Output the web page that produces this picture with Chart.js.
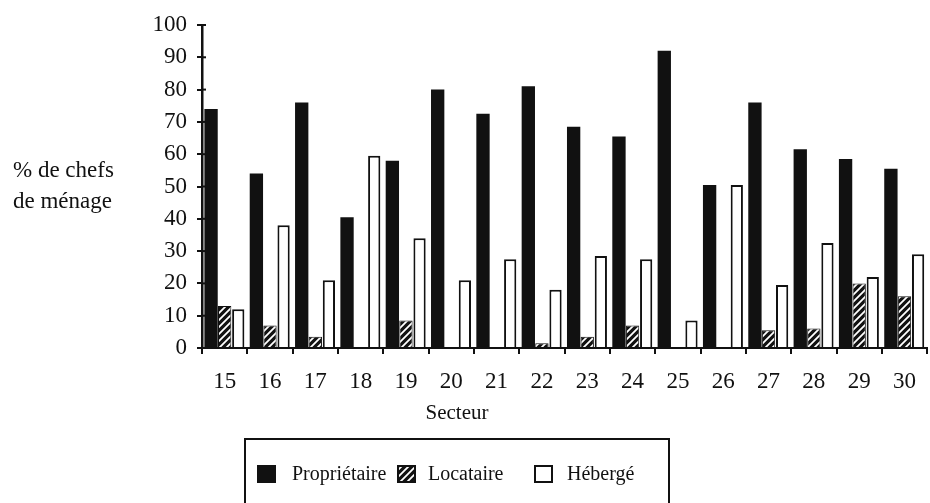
<!DOCTYPE html>
<html>
<head>
<meta charset="utf-8">
<script src="https://cdn.jsdelivr.net/npm/chart.js@4.4.0/dist/chart.umd.min.js"></script>
<style>
  html, body { margin: 0; padding: 0; background: #fff; }
  #wrap { width: 930px; height: 503px; }
</style>
</head>
<body>
<div id="wrap"><canvas id="graphe"></canvas></div>
<script>
const secteurs = ['15','16','17','18','19','20','21','22','23','24','25','26','27','28','29','30']
const proprietaire = [74, 54, 76, 40.5, 58, 80, 72.5, 81, 68.5, 65.5, 92, 50.5, 76, 61.5, 58.5, 55.5]
const locataire = [13, 7, 3.5, 0, 8.5, 0, 0, 1.5, 3.5, 7, 0, 0, 5.5, 6, 20, 16]
const heberge = [12, 38, 21, 59.5, 34, 21, 27.5, 18, 28.5, 27.5, 8.5, 50.5, 19.5, 32.5, 22, 29]
const ticksY = [0, 10, 20, 30, 40, 50, 60, 70, 80, 90, 100]

const serif = "'Liberation Serif', 'DejaVu Serif', serif"

// motif hachuré pour les locataires
function hachures() {
  var c = document.createElement('canvas')
  c.width = 7
  c.height = 7
  var g = c.getContext('2d')
  g.fillStyle = '#111'
  g.fillRect(0, 0, 7, 7)
  g.strokeStyle = '#fff'
  g.lineWidth = 1.8
  g.beginPath()
  g.moveTo(0, 7); g.lineTo(7, 0)
  g.moveTo(-2, 2); g.lineTo(2, -2)
  g.moveTo(5, 9); g.lineTo(9, 5)
  g.stroke()
  return g.createPattern(c, 'repeat')
}
const motif = hachures()

const decor = {
  id: 'decor',
  afterDraw(chart) {
    var ctx = chart.ctx
    var y = chart.scales.y
    ctx.save()
    // petits bouts de graduation à droite de l'axe
    ctx.strokeStyle = '#111'
    ctx.lineWidth = 2
    ticksY.forEach(function (v) {
      var py = y.getPixelForValue(v)
      ctx.beginPath()
      ctx.moveTo(y.right, py)
      ctx.lineTo(y.right + 4, py)
      ctx.stroke()
    })
    ctx.fillStyle = '#111'
    ctx.font = '23px ' + serif
    ctx.textAlign = 'left'
    ctx.textBaseline = 'middle'
    ctx.fillText('% de chefs', 13, 171)
    ctx.fillText('de ménage', 13, 202)
    ctx.textAlign = 'center'
    ctx.font = '21px ' + serif
    ctx.fillText('Secteur', 457, 413)

    // légende encadrée
    ctx.lineWidth = 2
    ctx.strokeRect(245, 439, 424, 80)
    var items = [
      { x: 258, tx: 292, fill: '#111', label: chart.data.datasets[0].label },
      { x: 398, tx: 428, fill: motif, label: chart.data.datasets[1].label },
      { x: 535, tx: 567, fill: '#fff', label: chart.data.datasets[2].label }
    ]
    ctx.font = '20px ' + serif
    ctx.textAlign = 'left'
    items.forEach(function (it) {
      ctx.fillStyle = it.fill
      ctx.fillRect(it.x, 466, 17, 16)
      ctx.strokeStyle = '#111'
      ctx.lineWidth = 2
      ctx.strokeRect(it.x, 466, 17, 16)
      ctx.fillStyle = '#111'
      ctx.fillText(it.label, it.tx, 475)
    })
    ctx.restore()
  }
}

new Chart(document.getElementById('graphe'), {
  type: 'bar',
  data: {
    labels: secteurs,
    datasets: [
      {
        label: 'Propriétaire',
        data: proprietaire,
        backgroundColor: '#111',
        borderColor: '#111',
        borderWidth: 0,
        categoryPercentage: 0.9,
        barPercentage: 0.98
      },
      {
        label: 'Locataire',
        data: locataire,
        backgroundColor: motif,
        borderColor: '#111',
        borderWidth: 1,
        categoryPercentage: 0.9,
        barPercentage: 0.98
      },
      {
        label: 'Hébergé',
        data: heberge,
        backgroundColor: '#fff',
        borderColor: '#111',
        borderWidth: 2,
        categoryPercentage: 0.9,
        barPercentage: 0.9
      }
    ]
  },
  options: {
    responsive: true,
    maintainAspectRatio: false,
    animation: false,
    layout: { padding: { top: 25, right: 0, left: 0, bottom: 0 } },
    plugins: {
      legend: { display: false },
      tooltip: { enabled: false }
    },
    scales: {
      x: {
        afterFit(scale) { scale.height = 155 },
        grid: {
          offset: true,
          drawOnChartArea: false,
          color: '#111',
          lineWidth: 2,
          tickLength: 6
        },
        border: { color: '#111', width: 2 },
        ticks: {
          color: '#111',
          font: { family: serif, size: 23 },
          padding: 14,
          maxRotation: 0
        }
      },
      y: {
        min: 0,
        max: 100,
        afterFit(scale) { scale.width = 202 },
        afterBuildTicks(scale) { scale.ticks = ticksY.map(function (v) { return { value: v } }) },
        grid: {
          drawOnChartArea: false,
          color: '#111',
          lineWidth: 2,
          tickLength: 5
        },
        border: { color: '#111', width: 2.5 },
        ticks: {
          color: '#111',
          font: { family: serif, size: 23 },
          padding: 10
        }
      }
    }
  },
  plugins: [decor]
})
</script>
</body>
</html>
